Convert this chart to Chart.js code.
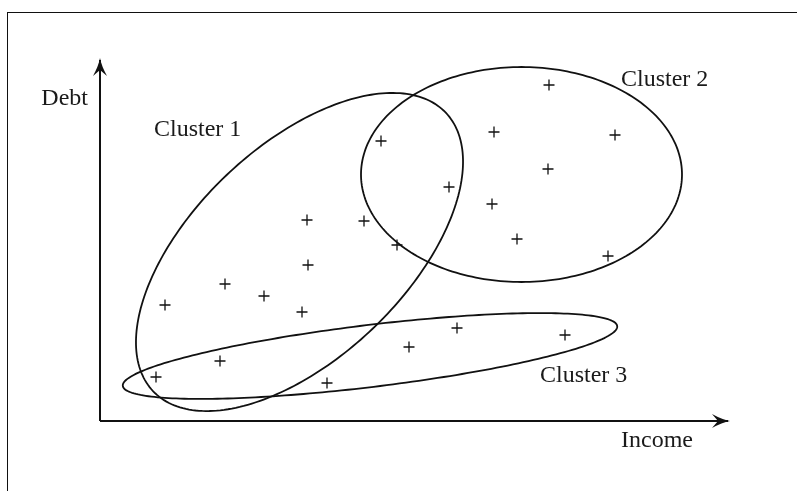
<!DOCTYPE html>
<html>
<head>
<meta charset="utf-8">
<title>Clusters: Income vs Debt</title>
<script src="https://cdn.jsdelivr.net/npm/chart.js@4/dist/chart.umd.min.js"></script>
<style>
  html, body { margin: 0; padding: 0; background: #fff; }
  #lienzo { position: relative; width: 797px; height: 491px; overflow: hidden; }
  #marco {
    position: absolute; left: 7px; top: 12px; width: 900px; height: 600px;
    border-left: 1.5px solid #111; border-top: 1.5px solid #111;
  }
  canvas { position: absolute; left: 0; top: 0; }
</style>
</head>
<body>
<div id="lienzo">
  <div id="marco"></div>
  <canvas id="grafica" width="797" height="491"></canvas>
</div>
<script>
/* --- Data (Income on x, Debt on y) ------------------------------------ */
const incomeValues = [89.8, 78.8, 103.0, 56.2, 89.6, 69.8, 41.4, 52.8, 78.4, 59.4, 83.4, 101.6,
                      41.6, 13.0, 25.0, 32.8, 40.4, 71.4, 61.8, 93.0, 24.0, 11.2, 45.4];
const debtValues   = [67.2, 57.8, 57.2, 56.0, 50.4, 46.8, 40.2, 40.0, 43.4, 35.2, 36.4, 33.0,
                      31.2, 23.2, 27.4, 25.0, 21.8, 18.6, 14.8, 17.2, 12.0, 8.8, 7.6];

// cluster outlines: centre, semi-axes (data units) and tilt in degrees
const clusterNames   = ['Cluster 1', 'Cluster 2', 'Cluster 3'];
const clusterCenterX = [39.9, 84.3, 54.0];
const clusterCenterY = [33.8, 49.3, 13.0];
const clusterSemiA   = [40.4, 32.1, 49.8];
const clusterSemiB   = [21.2, 21.5, 6.2];
const clusterTilt    = [43.6, 0, 6.9];
const clusterLabelX  = [10.8, 104.2, 88.0];
const clusterLabelY  = [57.0, 67.0, 7.8];

const axisTitles = { x: 'Income', y: 'Debt' };
const FUENTE = '24px "Liberation Serif", "Times New Roman", serif';

/* --- Plugin: ellipses, labels and arrow axes --------------------------- */
function punta(ctx, x, y, ang) {
  // LaTeX-like arrow head, tip at (x, y) pointing along ang
  ctx.save();
  ctx.translate(x, y);
  ctx.rotate(ang);
  ctx.beginPath();
  ctx.moveTo(0, 0);
  ctx.quadraticCurveTo(-8, 1.5, -18, 7);
  ctx.lineTo(-12, 0);
  ctx.lineTo(-18, -7);
  ctx.quadraticCurveTo(-8, -1.5, 0, 0);
  ctx.closePath();
  ctx.fillStyle = '#111';
  ctx.fill();
  ctx.restore();
}

const dibujoExtra = {
  id: 'dibujoExtra',
  beforeDatasetsDraw(chart) {
    const { ctx, chartArea: a, scales: { x, y } } = chart;
    ctx.save();

    // axes with arrows
    ctx.strokeStyle = '#111';
    ctx.lineWidth = 2;
    ctx.beginPath();
    ctx.moveTo(a.left, a.bottom);
    ctx.lineTo(a.left, a.top - 1);
    ctx.moveTo(a.left, a.bottom);
    ctx.lineTo(a.right - 2, a.bottom);
    ctx.stroke();
    punta(ctx, a.left, a.top - 3, -Math.PI / 2);
    punta(ctx, a.right, a.bottom, 0);

    // cluster ellipses, traced in data space and mapped through the scales
    ctx.lineWidth = 1.8;
    clusterNames.forEach((_, i) => {
      const th = clusterTilt[i] * Math.PI / 180;
      ctx.beginPath();
      for (let k = 0; k <= 240; k++) {
        const t = k / 240 * Math.PI * 2;
        const ca = clusterSemiA[i] * Math.cos(t), sb = clusterSemiB[i] * Math.sin(t);
        const dx = clusterCenterX[i] + ca * Math.cos(th) - sb * Math.sin(th);
        const dy = clusterCenterY[i] + ca * Math.sin(th) + sb * Math.cos(th);
        const px = x.getPixelForValue(dx), py = y.getPixelForValue(dy);
        if (k === 0) ctx.moveTo(px, py); else ctx.lineTo(px, py);
      }
      ctx.closePath();
      ctx.stroke();
    });

    // texts
    ctx.font = FUENTE;
    ctx.fillStyle = '#1a1a1a';
    ctx.textBaseline = 'alphabetic';
    ctx.textAlign = 'left';
    clusterNames.forEach((nombre, i) => {
      ctx.fillText(nombre, x.getPixelForValue(clusterLabelX[i]), y.getPixelForValue(clusterLabelY[i]));
    });
    ctx.textAlign = 'right';
    ctx.fillText(axisTitles.y, a.left - 12, a.top + 44);
    ctx.textAlign = 'left';
    ctx.fillText(axisTitles.x, a.right - 109, a.bottom + 26);

    ctx.restore();
  },
};

/* --- Chart ------------------------------------------------------------- */
new Chart(document.getElementById('grafica'), {
  type: 'scatter',
  data: {
    datasets: [{
      data: incomeValues.map((v, i) => ({ x: v, y: debtValues[i] })),
      pointStyle: 'cross',
      pointRadius: 5.5,
      pointBorderWidth: 1.3,
      borderColor: '#111',
      backgroundColor: '#111',
    }],
  },
  options: {
    responsive: false, animation: false, devicePixelRatio: 1,
    layout: { padding: { left: 100, top: 61, right: 67, bottom: 70 } },
    plugins: { legend: { display: false }, tooltip: { enabled: false } },
    scales: {
      x: { type: 'linear', min: 0, max: 126, display: false },
      y: { type: 'linear', min: 0, max: 72, display: false },
    },
  },
  plugins: [dibujoExtra],
});
</script>
</body>
</html>
